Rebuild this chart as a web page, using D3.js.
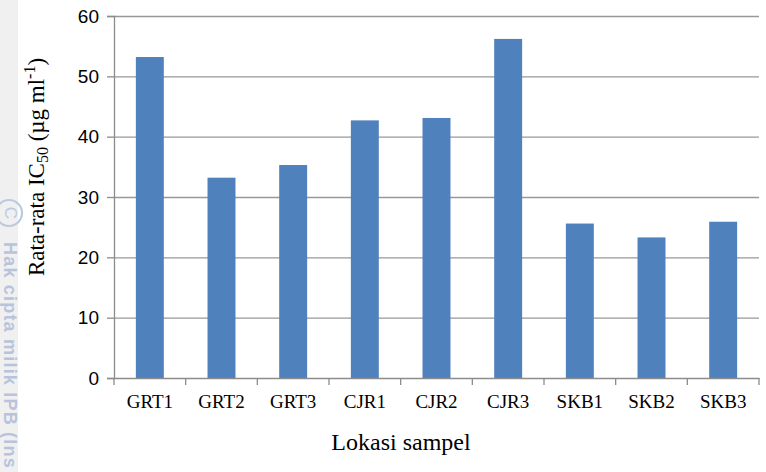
<!DOCTYPE html>
<html><head><meta charset="utf-8">
<script src="https://cdn.jsdelivr.net/npm/d3@7"></script>
<style>body{margin:0;background:#fff}svg{display:block}</style>
</head><body>
<svg id="c" width="766" height="472"></svg>
<script>
const categories = ["GRT1","GRT2","GRT3","CJR1","CJR2","CJR3","SKB1","SKB2","SKB3"];
const values = [53.2, 33.2, 35.3, 42.7, 43.1, 56.2, 25.6, 23.3, 25.9];
const yTicks = [0,10,20,30,40,50,60];

const svg = d3.select("#c");
// watermark strip
svg.append("rect").attr("x",0).attr("y",0).attr("width",18).attr("height",472).attr("fill","#f0f0f0");
svg.append("circle").attr("cx",9).attr("cy",213).attr("r",13).attr("fill","none").attr("stroke","#bdc9df").attr("stroke-width",2.2);
svg.append("text").attr("transform","translate(5,213) rotate(90)").attr("text-anchor","middle")
  .attr("font-family","Liberation Sans, Arial, sans-serif").attr("font-size",17).attr("fill","#bdc9df").text("C");
const wm = svg.append("g").attr("transform","translate(4,242) rotate(90)");
wm.append("text").attr("x",0).attr("y",0)
  .attr("font-family","Liberation Sans, Arial, sans-serif").attr("font-size",18).attr("font-weight",600)
  .attr("letter-spacing",1.2)
  .attr("fill","#b7c4dc")
  .text("Hak cipta milik IPB (Ins");

const x = d3.scaleBand().domain(categories).range([114,759]).paddingInner(0.61).paddingOuter(0.305);
const y = d3.scaleLinear().domain([0,60]).range([378,16]);

// gridlines
svg.append("g").selectAll("line").data(yTicks.filter(d=>d>0)).join("line")
  .attr("x1",114).attr("x2",759).attr("y1",d=>y(d)+0.5).attr("y2",d=>y(d)+0.5)
  .attr("stroke","#989898").attr("stroke-width",1.3);

// bars
svg.append("g").selectAll("rect").data(values).join("rect")
  .attr("x",(d,i)=>x(categories[i])).attr("width",x.bandwidth())
  .attr("y",d=>y(d)).attr("height",d=>y(0)-y(d)).attr("fill","#4F81BD");

// y axis
const ya = svg.append("g").attr("transform","translate(114,0)")
  .call(d3.axisLeft(y).tickValues(yTicks).tickSize(7).tickPadding(8));
ya.select(".domain").attr("stroke","#8c8c8c").attr("stroke-width",1.3);
ya.selectAll(".tick line").attr("stroke","#8c8c8c").attr("stroke-width",1.3);
ya.selectAll("text").attr("font-family","Liberation Sans, Arial, sans-serif").attr("font-size",19).attr("fill","#000");

// x axis
const xa = svg.append("g").attr("transform","translate(0,378)")
  .call(d3.axisBottom(x).tickSize(0).tickPadding(17));
xa.select(".domain").attr("stroke","#8c8c8c").attr("stroke-width",1.3);
xa.selectAll("text").attr("font-family","Liberation Serif, Times New Roman, serif").attr("font-size",19).attr("fill","#000");
// category separator ticks
svg.append("g").selectAll("line").data(categories.map(c=>x(c)-(x.step()-x.bandwidth())/2).concat([759])).join("line")
  .attr("x1",d=>d).attr("x2",d=>d).attr("y1",378).attr("y2",385)
  .attr("stroke","#8c8c8c").attr("stroke-width",1.3);

// axis titles
svg.append("text").attr("x",401).attr("y",450).attr("text-anchor","middle")
  .attr("font-family","Liberation Serif, Times New Roman, serif").attr("font-size",24).text("Lokasi sampel");

const yt = svg.append("text").attr("transform","translate(44,167) rotate(-90)").attr("text-anchor","middle")
  .attr("font-family","Liberation Serif, Times New Roman, serif").attr("font-size",23);
yt.append("tspan").text("Rata-rata IC");
yt.append("tspan").attr("font-size",16).attr("dy",4).text("50");
yt.append("tspan").attr("dy",-4).text(" (µg ml");
yt.append("tspan").attr("font-size",16).attr("dy",-9).text("-1");
yt.append("tspan").attr("dy",9).text(")");
</script>
</body></html>
